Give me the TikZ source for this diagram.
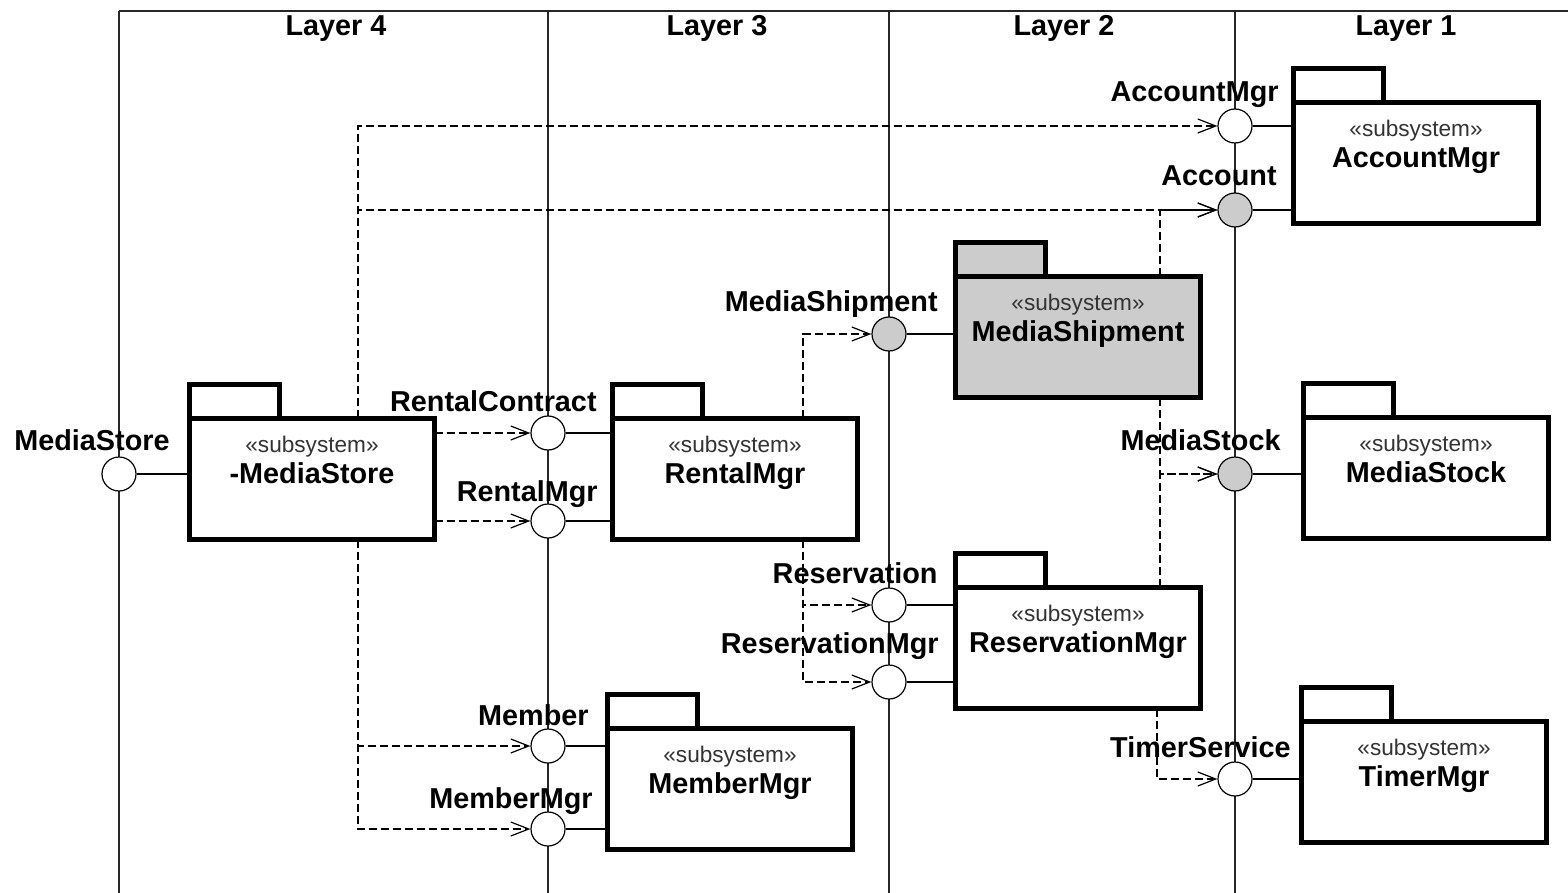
\documentclass[tikz,border=0pt]{standalone}
\usepackage{fontspec}
\setmainfont{Liberation Sans}
\usetikzlibrary{arrows.meta}
\definecolor{pkggray}{HTML}{CCCCCC}
\newcommand\umlpkg[5]{%
  \node[pkgbody, fill=#4] (#1) at (#2+2.4,#3+2.4) {};
  \draw[pkgtab, fill=#4] (#1.north west) rectangle ++(90.2,-33.6);
  \node[stereo] (#1s) at ([yshift=-17.2pt]#1.north) {«subsystem»};
  \node[pname] (#1n) at ([yshift=-32.6pt]#1.north) {#5};
}
\begin{document}
\begin{tikzpicture}[x=0.5pt,y=-0.5pt,
  frame/.style={line width=0.8pt, black!85},
  thinline/.style={line width=0.7pt},
  ball/.style={circle, draw, line width=0.6pt, fill=white, minimum size=17pt, inner sep=0pt},
  gball/.style={ball, fill=pkggray},
  pkgbody/.style={draw, line width=2.4pt, minimum width=122.6pt, minimum height=60.6pt, inner sep=0pt, outer sep=0pt, anchor=north west},
  pkgtab/.style={line width=2.4pt, draw},
  stereo/.style={font=\fontsize{11.3}{13}\selectfont, text=black!80, inner sep=0pt, anchor=base},
  pname/.style={font=\bfseries\fontsize{14.4}{17}\selectfont, inner sep=0pt, anchor=base},
  lbl/.style={font=\bfseries\fontsize{14.4}{17}\selectfont, inner sep=0pt, anchor=base east},
  layer/.style={font=\bfseries\fontsize{14.4}{17}\selectfont, inner sep=0pt, anchor=base},
  dep/.style={line width=0.6pt, dash pattern=on 4pt off 2pt, -{Straight Barb[length=9pt,width=7pt,line width=0.6pt]}},
]
\useasboundingbox (0,0) rectangle (1568,893);
% frame
\draw[frame] (119,11) -- (1568,11);
\foreach \x in {119,548,889,1235} \draw[frame] (\x,11) -- (\x,893);
\node[layer] (L4) at (336,36) {Layer 4};
\node[layer] (L3) at (717,36) {Layer 3};
\node[layer] (L2) at (1064,36) {Layer 2};
\node[layer] (L1) at (1406,36) {Layer 1};
% balls
\node[ball] (bMS) at (119,474) {};
\node[ball] (bRC) at (548,433) {};
\node[ball] (bRM) at (548,521) {};
\node[ball] (bMem) at (548,746) {};
\node[ball] (bMemM) at (548,829) {};
\node[gball] (bShip) at (889,334) {};
\node[ball] (bRes) at (889,605) {};
\node[ball] (bResM) at (889,682) {};
\node[ball] (bAccM) at (1235,126) {};
\node[gball] (bAcc) at (1235,210) {};
\node[gball] (bStk) at (1235,474) {};
\node[ball] (bTmr) at (1235,779) {};
% packages
\umlpkg{ms}{187}{416}{white}{-MediaStore}
\umlpkg{rm}{610}{416}{white}{RentalMgr}
\umlpkg{mm}{605}{726}{white}{MemberMgr}
\umlpkg{ship}{953}{274}{pkggray}{MediaShipment}
\umlpkg{rsv}{953}{585}{white}{ReservationMgr}
\umlpkg{acc}{1291}{100}{white}{AccountMgr}
\umlpkg{stk}{1301}{415}{white}{MediaStock}
\umlpkg{tmr}{1299}{719}{white}{TimerMgr}
% ball - package links
\draw[thinline] (bMS) -- (ms.west |- bMS);
\draw[thinline] (bRC) -- (rm.west |- bRC);
\draw[thinline] (bRM) -- (rm.west |- bRM);
\draw[thinline] (bMem) -- (mm.west |- bMem);
\draw[thinline] (bMemM) -- (mm.west |- bMemM);
\draw[thinline] (bShip) -- (ship.west |- bShip);
\draw[thinline] (bRes) -- (rsv.west |- bRes);
\draw[thinline] (bResM) -- (rsv.west |- bResM);
\draw[thinline] (bAccM) -- (acc.west |- bAccM);
\draw[thinline] (bAcc) -- (acc.west |- bAcc);
\draw[thinline] (bStk) -- (stk.west |- bStk);
\draw[thinline] (bTmr) -- (tmr.west |- bTmr);
% dependencies
\coordinate (msx) at (358,0);
\coordinate (rmx) at (803,0);
\coordinate (shx) at (1160,0);
\coordinate (rsx) at (1157,0);
\draw[dep] (ms.north -| msx) |- (bAccM);
\draw[dep] (ms.north -| msx) |- (bAcc);
\draw[dep] (ms.east |- bRC) -- (bRC);
\draw[dep] (ms.east |- bRM) -- (bRM);
\draw[dep] (ms.south -| msx) |- (bMem);
\draw[dep] (ms.south -| msx) |- (bMemM);
\draw[dep] (rm.north -| rmx) |- (bShip);
\draw[dep] (rm.south -| rmx) |- (bRes);
\draw[dep] (rm.south -| rmx) |- (bResM);
\draw[dep] (ship.north -| shx) |- (bAcc);
\draw[dep] (ship.south -| shx) |- (bStk);
\draw[dep] (rsv.north -| shx) |- (bStk);
\draw[dep] (rsv.south -| rsx) |- (bTmr);
% interface labels
\node[lbl] (tMS) at (170,450) {MediaStore};
\node[lbl] (tRC) at (597,411) {RentalContract};
\node[lbl] (tRM) at (598,501) {RentalMgr};
\node[lbl] (tMem) at (589,725) {Member};
\node[lbl] (tMemM) at (593,808) {MemberMgr};
\node[lbl] (tShip) at (938,311) {MediaShipment};
\node[lbl] (tRes) at (938,583) {Reservation};
\node[lbl] (tResM) at (939,653) {ReservationMgr};
\node[lbl] (tAccM) at (1279,102) {AccountMgr};
\node[lbl] (tAcc) at (1277,186) {Account};
\node[lbl] (tStk) at (1281,450) {MediaStock};
\node[lbl] (tTmr) at (1291,757) {TimerService};
\end{tikzpicture}
\end{document}
